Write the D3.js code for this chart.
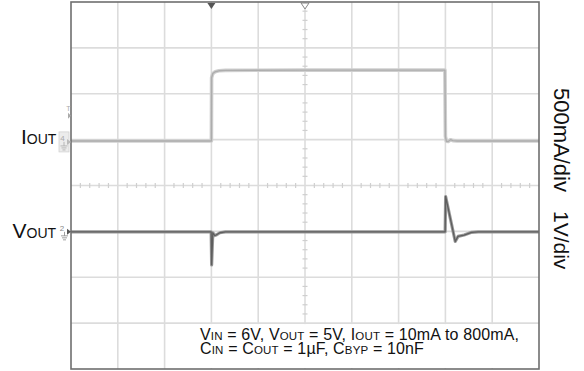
<!DOCTYPE html>
<html>
<head>
<meta charset="utf-8">
<script src="https://cdn.jsdelivr.net/npm/d3@7"></script>
<style>
  html, body { margin: 0; padding: 0; background: #fff; }
  svg { display: block; }
  text { font-family: "Liberation Sans", Arial, Helvetica, sans-serif; fill: #111; }
</style>
</head>
<body>
<svg id="chart" width="584" height="371"></svg>
<script>
// ---- Data (time in divisions, 10 div across; Iout in mA, Vout deviation in V) ----
const timeDivs = [0, 1, 2, 3, 4, 5, 6, 7, 8, 9, 10];
const vertDivs = [-4, -3, -2, -1, 0, 1, 2, 3, 4];

const ioutTime = [0, 3.0, 3.004, 3.03, 3.08, 3.16, 3.3, 5.0, 7.99, 8.0, 8.02, 8.06, 8.11, 8.16, 8.25, 10];
const ioutMA   = [10, 10, 700, 745, 765, 775, 780, 782, 782, 60, 8, 5, 24, 14, 10, 10];

const voutTime = [0, 2.995, 3.005, 3.03, 3.07, 3.1, 3.18, 3.3, 7.995, 8.005, 8.21, 8.27, 8.4, 8.56, 8.7, 10];
const voutV    = [0, 0, -0.72, -0.02, -0.08, -0.07, -0.02, 0, 0, 0.77, -0.21, -0.1, -0.07, -0.01, 0, 0];

const ioutScale = 500;   // mA per division
const voutScale = 1;     // V per division
const ioutOffsetDiv = 0.95;   // channel 4 ground marker position (div)
const voutOffsetDiv = -1.01;  // channel 2 marker position (div)

const labelIout = ["I", "OUT"];
const labelVout = ["V", "OUT"];
const scaleLabels = ["500mA/div", "1V/div"];
const noteLine1 = [["V",""],["IN","sub"],[" = 6V, V",""],["OUT","sub"],[" = 5V, I",""],["OUT","sub"],[" = 10mA to 800mA,",""]];
const noteLine2 = [["C",""],["IN","sub"],[" = C",""],["OUT","sub"],[" = 1µF, C",""],["BYP","sub"],[" = 10nF",""]];

// ---- Layout ----
const svg = d3.select("#chart");
const x = d3.scaleLinear().domain([0, 10]).range([71, 539]);
const y = d3.scaleLinear().domain([-4, 4]).range([369, 2]);

// grid
const grid = svg.append("g");
grid.selectAll("line.v").data(timeDivs.slice(1, -1)).join("line")
  .attr("x1", d => x(d)).attr("x2", d => x(d))
  .attr("y1", y(4)).attr("y2", y(-4))
  .attr("stroke", "#dcdcdc").attr("stroke-width", 1.6);
grid.selectAll("line.h").data(vertDivs.slice(1, -1)).join("line")
  .attr("x1", x(0)).attr("x2", x(10))
  .attr("y1", d => y(d)).attr("y2", d => y(d))
  .attr("stroke", "#dcdcdc").attr("stroke-width", 1.6);

// minor ticks on center lines
const minorX = d3.range(0, 50).map(i => i * 0.2).filter(v => v > 0 && Math.abs(v - Math.round(v)) > 1e-6);
const minorY = d3.range(0, 40).map(i => -4 + i * 0.2).filter(v => v > -4 && Math.abs(v - Math.round(v)) > 1e-6);
grid.selectAll("line.mx").data(minorX).join("line")
  .attr("x1", d => x(d)).attr("x2", d => x(d))
  .attr("y1", y(0) - 2.5).attr("y2", y(0) + 2.5)
  .attr("stroke", "#cfcfcf").attr("stroke-width", 1.2);
grid.selectAll("line.my").data(minorY).join("line")
  .attr("x1", x(5) - 2.5).attr("x2", x(5) + 2.5)
  .attr("y1", d => y(d)).attr("y2", d => y(d))
  .attr("stroke", "#cfcfcf").attr("stroke-width", 1.2);

// traces
const lineI = d3.line()
  .x((d, i) => x(ioutTime[i]))
  .y(d => y(ioutOffsetDiv + d / ioutScale));
const lineV = d3.line()
  .x((d, i) => x(voutTime[i]))
  .y(d => y(voutOffsetDiv + d / voutScale));

svg.append("path").attr("d", lineI(ioutMA)).attr("fill", "none")
  .attr("stroke", "#cfcfcf").attr("stroke-width", 3.6).attr("stroke-linejoin", "round");
svg.append("path").attr("d", lineI(ioutMA)).attr("fill", "none")
  .attr("stroke", "#adadad").attr("stroke-width", 1.4).attr("stroke-linejoin", "round");

svg.append("path").attr("d", lineV(voutV)).attr("fill", "none")
  .attr("stroke", "#9a9a9a").attr("stroke-width", 3.2).attr("stroke-linejoin", "round");
svg.append("path").attr("d", lineV(voutV)).attr("fill", "none")
  .attr("stroke", "#5e5e5e").attr("stroke-width", 1.3).attr("stroke-linejoin", "round");

// annotation box
svg.append("rect").attr("x", 196).attr("y", y(-3) + 1).attr("width", x(10) - 196 - 1).attr("height", y(-4) - y(-3) - 2)
  .attr("fill", "#fff");

function richText(parts, tx, ty, size, subSize) {
  const t = svg.append("text").attr("x", tx).attr("y", ty).attr("font-size", size)
    .attr("letter-spacing", 0.15);
  parts.forEach(([s, kind]) => {
    t.append("tspan").text(s)
      .attr("font-size", kind === "sub" ? subSize : size);
  });
  return t;
}
richText(noteLine1, 200, 339.8, 16, 11.5);
richText(noteLine2, 200, 354, 16, 11.5);

// frame
svg.append("rect").attr("x", x(0)).attr("y", y(4)).attr("width", x(10) - x(0)).attr("height", y(-4) - y(4))
  .attr("fill", "none").attr("stroke", "#6f6f6f").attr("stroke-width", 1.6);

// top markers
const trigX = x(3), centerX = x(5);
svg.append("path").attr("d", `M${trigX - 4},${y(4) + 1} L${trigX + 4},${y(4) + 1} L${trigX},${y(4) + 7} Z`)
  .attr("fill", "#555");
svg.append("path").attr("d", `M${centerX - 4},${y(4) + 1} L${centerX + 4},${y(4) + 1} L${centerX},${y(4) + 7} Z`)
  .attr("fill", "#fff").attr("stroke", "#888").attr("stroke-width", 1);

// left markers
const trigLevel = y(ioutOffsetDiv + 0.57);
svg.append("text").attr("x", 68.5).attr("y", trigLevel - 5).attr("font-size", 7).attr("text-anchor", "middle")
  .style("fill", "#aaa").text("T");
svg.append("path").attr("d", `M${x(0) - 3},${trigLevel - 3} L${x(0)},${trigLevel} L${x(0) - 3},${trigLevel + 3} Z`)
  .attr("fill", "#aaa");

const i0 = y(ioutOffsetDiv);
svg.append("rect").attr("x", 59).attr("y", i0 - 10).attr("width", 10).attr("height", 20)
  .attr("fill", "#ececec").attr("stroke", "#d2d2d2").attr("stroke-width", 0.8);
svg.append("text").attr("x", 62.5).attr("y", i0 - 1).attr("font-size", 8).attr("text-anchor", "middle")
  .style("fill", "#aaa").text("4");
svg.append("path").attr("d", `M${x(0) - 4},${i0 - 3} L${x(0)},${i0} L${x(0) - 4},${i0 + 3} Z`).attr("fill", "#bbb");
svg.append("path").attr("d", `M64,${i0} V${i0 + 4} M60.5,${i0 + 4} H67.5 M61.5,${i0 + 6} H66.5 M62.5,${i0 + 8} H65.5`)
  .attr("stroke", "#aaa").attr("stroke-width", 0.8).attr("fill", "none");

const v0 = y(voutOffsetDiv);
svg.append("text").attr("x", 62).attr("y", v0 - 1).attr("font-size", 8).attr("text-anchor", "middle")
  .style("fill", "#888").text("2");
svg.append("path").attr("d", `M${x(0) - 4},${v0 - 3} L${x(0)},${v0} L${x(0) - 4},${v0 + 3} Z`).attr("fill", "#555");
svg.append("path").attr("d", `M64.5,${v0} V${v0 + 4} M61,${v0 + 4} H68 M62,${v0 + 6} H67 M63,${v0 + 8} H66`)
  .attr("stroke", "#888").attr("stroke-width", 0.8).attr("fill", "none");

// channel labels
function chanLabel(parts, tx, ty) {
  const t = svg.append("text").attr("x", tx).attr("y", ty).attr("font-size", 21);
  t.append("tspan").text(parts[0]);
  t.append("tspan").text(parts[1]).attr("font-size", 14);
}
chanLabel(labelIout, 21, 143.5);
chanLabel(labelVout, 12.5, 238);

// scale labels (rotated)
svg.append("text").attr("transform", "translate(553.5,88) rotate(90)").attr("font-size", 22).text(scaleLabels[0]);
svg.append("text").attr("transform", "translate(553.5,211) rotate(90)").attr("font-size", 21).text(scaleLabels[1]);
</script>
</body>
</html>
